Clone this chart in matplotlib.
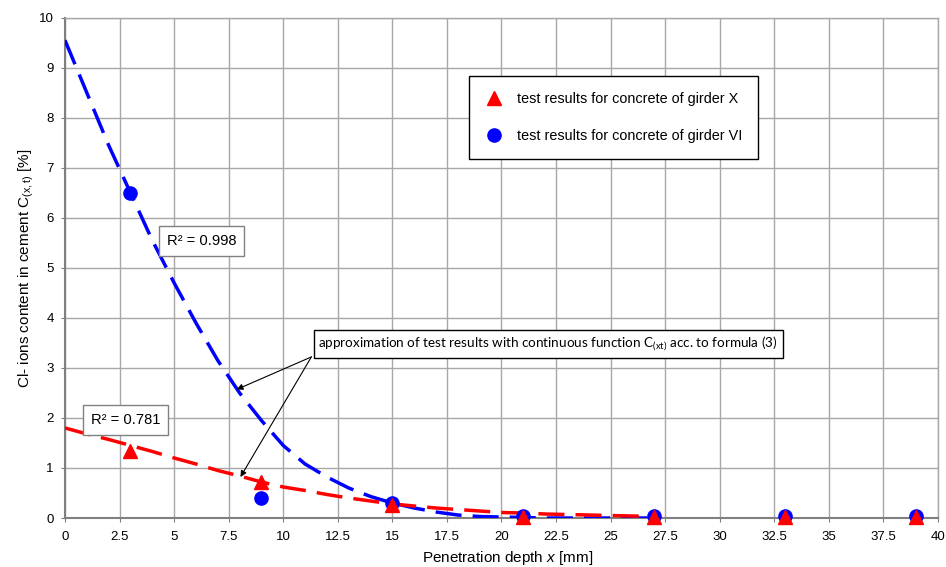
import numpy as np
import matplotlib
matplotlib.use("Agg")
import matplotlib.pyplot as plt
from matplotlib.ticker import MultipleLocator, FuncFormatter

plt.rcParams.update({
    "font.family": ["Liberation Sans", "DejaVu Sans"],
    "font.size": 9.5,
    "mathtext.fontset": "custom",
    "mathtext.rm": "Liberation Sans",
    "mathtext.it": "Liberation Sans:italic",
})

# test results
depth = [3, 9, 15, 21, 27, 33, 39]
girder_x = [1.33, 0.72, 0.27, 0.02, 0.02, 0.02, 0.02]
girder_vi = [6.5, 0.4, 0.3, 0.05, 0.05, 0.05, 0.05]

# approximation curves
fit_x = list(range(0, 28))
fit_vi = [9.55, 8.5, 7.45, 6.5, 5.55, 4.7, 3.9, 3.15, 2.5, 1.95, 1.45, 1.08,
          0.82, 0.6, 0.43, 0.3, 0.2, 0.12, 0.06, 0.03, 0.02, 0.01, 0.0,
          0.0, 0.0, 0.0, 0.0, 0.0]
fit_xg = [1.8, 1.68, 1.57, 1.45, 1.33, 1.2, 1.08, 0.95, 0.84, 0.72, 0.62,
          0.55, 0.47, 0.4, 0.34, 0.28, 0.24, 0.2, 0.17, 0.14, 0.11, 0.1,
          0.08, 0.07, 0.06, 0.05, 0.04, 0.03]

fig = plt.figure(figsize=(9.46, 5.67), dpi=100)
ax = fig.add_axes([0.0687, 0.0864, 0.9228, 0.8824])

ax.plot(fit_x, fit_vi, color="#0000ff", lw=2.5, dashes=(7.5, 3.2), zorder=3)
ax.plot(fit_x, fit_xg, color="#ff0000", lw=2.5, dashes=(7.5, 3.2), zorder=3)

ax.plot(depth, girder_vi, ls="none", marker="o", ms=9.5, color="#0000ff",
        label="test results for concrete of girder VI", zorder=4, clip_on=False)
ax.plot(depth, girder_x, ls="none", marker="^", ms=9.5, color="#ff0000",
        label="test results for concrete of girder X", zorder=5, clip_on=False)

ax.set_xlim(0, 40)
ax.set_ylim(0, 10)
ax.xaxis.set_major_locator(MultipleLocator(2.5))
ax.yaxis.set_major_locator(MultipleLocator(1))
ax.xaxis.set_major_formatter(FuncFormatter(lambda v, p: f"{v:g}"))
ax.grid(True, color="#a8a8a8", lw=1)
ax.set_axisbelow(True)
for s in ["top", "right"]:
    ax.spines[s].set_color("#a8a8a8")
    ax.spines[s].set_linewidth(1)
for s in ["left", "bottom"]:
    ax.spines[s].set_color("#808080")
    ax.spines[s].set_linewidth(1.5)
ax.tick_params(length=3, color="#808080", labelsize=9.5)
ax.tick_params(axis="x", pad=6.5)
ax.tick_params(axis="y", pad=5)

ax.set_xlabel(r"Penetration depth $\mathit{x}$ [mm]", fontsize=11)
ax.xaxis.set_label_coords(0.5074, -0.062)
ax.set_ylabel(r"Cl- ions content in cement C$_\mathregular{(x,t)}$ [%]",
              fontsize=11, labelpad=2)

handles, labels = ax.get_legend_handles_labels()
leg = ax.legend(handles[::-1], labels[::-1], loc="upper left",
                bbox_to_anchor=(0.4628, 0.8834), borderaxespad=0,
                fancybox=False, edgecolor="black", framealpha=1,
                borderpad=1.1, labelspacing=1.6, handlelength=1.2,
                handletextpad=1.0, fontsize=10.4)
leg.get_frame().set_linewidth(1)

box = dict(boxstyle="square,pad=0.55", fc="white", ec="#808080", lw=1)
ax.text(6.26, 5.54, "R² = 0.998", ha="center", va="center",
        fontsize=10.6, bbox=box, zorder=6)
ax.text(2.77, 1.96, "R² = 0.781", ha="center", va="center",
        fontsize=10.6, bbox=box, zorder=6)

ax.text(22.14, 3.48,
        r"approximation of test results with continuous function C$_\mathregular{(xt)}$ acc. to formula (3)",
        ha="center", va="center", fontsize=9.7, family=["Lato", "DejaVu Sans"],
        bbox=dict(boxstyle="square,pad=0.35", fc="white", ec="black", lw=1),
        zorder=6)
for tip in [(7.87, 2.57), (8.04, 0.82)]:
    ax.annotate("", xy=tip, xytext=(11.29, 3.22),
                arrowprops=dict(arrowstyle="-|>", lw=0.8, color="black",
                                mutation_scale=9, shrinkA=0, shrinkB=0),
                zorder=6)

fig.savefig("out.png", dpi=100)
